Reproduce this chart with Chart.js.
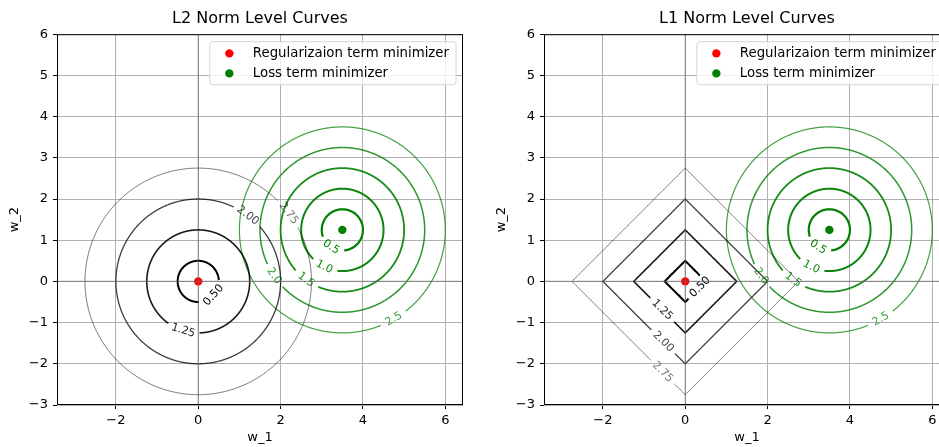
<!DOCTYPE html>
<html>
<head>
<meta charset="utf-8">
<script src="https://cdn.jsdelivr.net/npm/chart.js@4.4.0/dist/chart.umd.min.js"></script>
<style>
  html, body { margin: 0; padding: 0; background: #fff; overflow: hidden; }
  #wrap { position: relative; width: 939px; height: 447px; overflow: hidden; }
  .box { position: absolute; top: 0; height: 447px; }
  #left { left: 0; width: 470px; }
  #right { left: 470px; width: 487px; }
</style>
</head>
<body>
<div id="wrap">
  <div class="box" id="left"><canvas id="l2Chart" width="470" height="447"></canvas></div>
  <div class="box" id="right"><canvas id="l1Chart" width="487" height="447"></canvas></div>
</div>
<script>
// values
const regLevels = [0.5, 1.25, 2.0, 2.75];
const regLevelText = ['0.50', '1.25', '2.00', '2.75'];
const lossLevels = [0.5, 1.0, 1.5, 2.0, 2.5];
const lossLevelText = ['0.5', '1.0', '1.5', '2.0', '2.5'];
const regMinimizer = [0, 0];
const lossMinimizer = [3.5, 1.25];
const xTicks = [-2, 0, 2, 4, 6];
const yTicks = [-3, -2, -1, 0, 1, 2, 3, 4, 5, 6];
const legendNames = ['Regularizaion term minimizer', 'Loss term minimizer'];

// where the inline contour labels sit (polar angle, degrees)
const l2LabelAngles = [-42, -107, 53, 37];
const l1LabelAngles = [-21, -129, -110, -104];
const lossLabelAngles = [-123, -116, -126, -146, -60];

const FONT = 'DejaVu Sans';
const regColors = ['rgba(0,0,0,1)', 'rgba(0,0,0,0.9)', 'rgba(0,0,0,0.76)', 'rgba(0,0,0,0.56)'];
const regWidths = [2, 1.6, 1.3, 1];
const lossColors = ['rgba(0,128,0,1)', 'rgba(0,128,0,0.95)', 'rgba(0,128,0,0.9)', 'rgba(0,128,0,0.82)', 'rgba(0,128,0,0.74)'];
const lossWidths = [2.2, 2, 1.8, 1.5, 1.2];

function curvePoint(shape, r, deg) {
	const t = deg * Math.PI / 180, c = Math.cos(t), s = Math.sin(t);
	const k = shape === 'diamond' ? r / (Math.abs(c) + Math.abs(s)) : r;
	return [k * c, k * s];
}

// closed level curve with a gap cut out where the label goes
function levelCurve(shape, center, r, labelDeg, gap) {
	const step = 0.5, n = 720;
	const pts = [];
	for (let i = 0; i < n; i++) {
		const p = curvePoint(shape, r, i * step);
		pts.push({x: center[0] + p[0], y: center[1] + p[1]});
	}
	const acc = [0];
	for (let i = 1; i <= n; i++) {
		const a = pts[i - 1], b = pts[i % n];
		acc.push(acc[i - 1] + Math.hypot(b.x - a.x, b.y - a.y));
	}
	const total = acc[n];
	const k = ((Math.round(labelDeg / step) % n) + n) % n;
	const dist = i => { const d = Math.abs(acc[i] - acc[k]); return Math.min(d, total - d); };
	const data = [];
	let i = k;
	while (dist(i) < gap / 2) i = (i + 1) % n;
	while (dist(i) >= gap / 2) { data.push(pts[i]); i = (i + 1) % n; }
	const prev = pts[(k - 1 + n) % n], next = pts[(k + 1) % n];
	return {data, label: {x: pts[k].x, y: pts[k].y, dx: next.x - prev.x, dy: next.y - prev.y}};
}

function levelDatasets(shape, center, levels, texts, angles, colors, widths, gap) {
	return levels.map((lv, i) => {
		const c = levelCurve(shape, center, lv, angles[i], gap);
		return {
			data: c.data,
			showLine: true,
			// tiny tension keeps chart.js off its x-sorted fast path
			tension: 0.0001,
			pointRadius: 0,
			pointHoverRadius: 0,
			borderColor: colors[i],
			borderWidth: widths[i],
			fill: false,
			contourLabel: {text: texts[i], color: colors[i], pos: c.label}
		};
	});
}

const contourLabels = {
	id: 'contourLabels',
	afterDatasetsDraw(chart) {
		const ctx = chart.ctx, xs = chart.scales.x, ys = chart.scales.y;
		ctx.save();
		ctx.font = '11px "' + FONT + '"';
		ctx.textAlign = 'center';
		ctx.textBaseline = 'middle';
		chart.data.datasets.forEach(ds => {
			if (!ds.contourLabel) return;
			const p = ds.contourLabel.pos;
			const px = xs.getPixelForValue(p.x), py = ys.getPixelForValue(p.y);
			const tx = xs.getPixelForValue(p.x + p.dx) - xs.getPixelForValue(p.x);
			const ty = ys.getPixelForValue(p.y + p.dy) - ys.getPixelForValue(p.y);
			let a = Math.atan2(ty, tx);
			if (a > Math.PI / 2) a -= Math.PI;
			if (a < -Math.PI / 2) a += Math.PI;
			ctx.save();
			ctx.translate(px, py);
			ctx.rotate(a);
			ctx.fillStyle = ds.contourLabel.color;
			ctx.fillText(ds.contourLabel.text, 0, 0);
			ctx.restore();
		});
		ctx.restore();
	}
};

// axhline / axvline through the origin, the frame and the legend
const decorations = {
	id: 'decorations',
	afterDatasetsDraw(chart) {
		const ctx = chart.ctx, area = chart.chartArea;
		const xs = chart.scales.x, ys = chart.scales.y;
		ctx.save();
		ctx.strokeStyle = 'rgba(110,110,110,0.6)';
		ctx.lineWidth = 1.2;
		const x0 = xs.getPixelForValue(0), y0 = ys.getPixelForValue(0);
		ctx.beginPath();
		ctx.moveTo(x0, area.top); ctx.lineTo(x0, area.bottom);
		ctx.moveTo(area.left, y0); ctx.lineTo(area.right, y0);
		ctx.stroke();

		ctx.strokeStyle = '#000';
		ctx.lineWidth = 1;
		ctx.strokeRect(area.left + 0.5, area.top + 0.5, area.right - area.left - 1, area.bottom - area.top - 1);

		// legend
		ctx.font = '13.3px "' + FONT + '"';
		const textW = Math.max(...legendNames.map(t => ctx.measureText(t).width));
		const w = 43 + textW + 7, h = 43;
		const bx = area.right - 7 - w, by = area.top + 7.5;
		ctx.fillStyle = 'rgba(255,255,255,0.8)';
		ctx.strokeStyle = '#d5d5d5';
		ctx.beginPath();
		ctx.roundRect(bx, by, w, h, 3);
		ctx.fill();
		ctx.stroke();
		const colors = ['red', 'green'];
		legendNames.forEach((name, i) => {
			const yy = by + 11.7 + i * 20;
			ctx.fillStyle = colors[i];
			ctx.beginPath();
			ctx.arc(bx + 19.5, yy, 4.2, 0, Math.PI * 2);
			ctx.fill();
			ctx.fillStyle = '#000';
			ctx.textAlign = 'left';
			ctx.textBaseline = 'middle';
			ctx.fillText(name, bx + 43, yy);
		});
		ctx.restore();
	}
};

function minus(v) {
	return String(v).replace('-', '\u2212');
}

function makeChart(canvasId, title, regShape, regAngles, padLeft) {
	const datasets = [
		...levelDatasets(regShape, regMinimizer, regLevels, regLevelText, regAngles, regColors, regWidths, 0.8),
		...levelDatasets('circle', lossMinimizer, lossLevels, lossLevelText, lossLabelAngles, lossColors, lossWidths, 0.66),
		{
			data: [{x: regMinimizer[0], y: regMinimizer[1]}],
			pointRadius: 4.2, pointBackgroundColor: 'red', pointBorderWidth: 0, showLine: false
		},
		{
			data: [{x: lossMinimizer[0], y: lossMinimizer[1]}],
			pointRadius: 4.2, pointBackgroundColor: 'green', pointBorderWidth: 0, showLine: false
		}
	];
	return new Chart(document.getElementById(canvasId), {
		type: 'scatter',
		data: {datasets},
		plugins: [contourLabels, decorations],
		options: {
			responsive: false,
			animation: false,
			events: [],
			layout: {padding: {left: padLeft, right: 7, top: 0, bottom: 0}},
			plugins: {
				legend: {display: false},
				tooltip: {enabled: false},
				title: {
					display: true,
					text: title,
					fullSize: false,
					color: '#000',
					font: {family: FONT, size: 16, weight: 'normal'},
					padding: {top: 9, bottom: 6}
				}
			},
			scales: {
				x: {
					type: 'linear',
					min: -3.43,
					max: 6.43,
					afterBuildTicks: s => { s.ticks = xTicks.map(v => ({value: v})); },
					afterFit: s => { s.height = 42; },
					border: {display: false},
					grid: {color: '#b0b0b0', lineWidth: 1, tickLength: 4, tickColor: '#000', tickWidth: 1},
					ticks: {color: '#000', padding: 4, font: {family: FONT, size: 13}, callback: minus, maxRotation: 0},
					title: {display: true, text: 'w_1', color: '#000', font: {family: FONT, size: 13}, padding: {top: 0, bottom: 2}}
				},
				y: {
					type: 'linear',
					min: -3,
					max: 6,
					afterBuildTicks: s => { s.ticks = yTicks.map(v => ({value: v})); },
					afterFit: s => { s.width = 57; },
					border: {display: false},
					grid: {color: '#b0b0b0', lineWidth: 1, tickLength: 4, tickColor: '#000', tickWidth: 1},
					ticks: {color: '#000', padding: 5, font: {family: FONT, size: 13}, callback: minus},
					title: {display: true, text: 'w_2', color: '#000', font: {family: FONT, size: 13}, padding: {top: 7, bottom: 0}}
				}
			}
		}
	});
}

makeChart('l2Chart', 'L2 Norm Level Curves', 'circle', l2LabelAngles, 0);
makeChart('l1Chart', 'L1 Norm Level Curves', 'diamond', l1LabelAngles, 17);
</script>
</body>
</html>
